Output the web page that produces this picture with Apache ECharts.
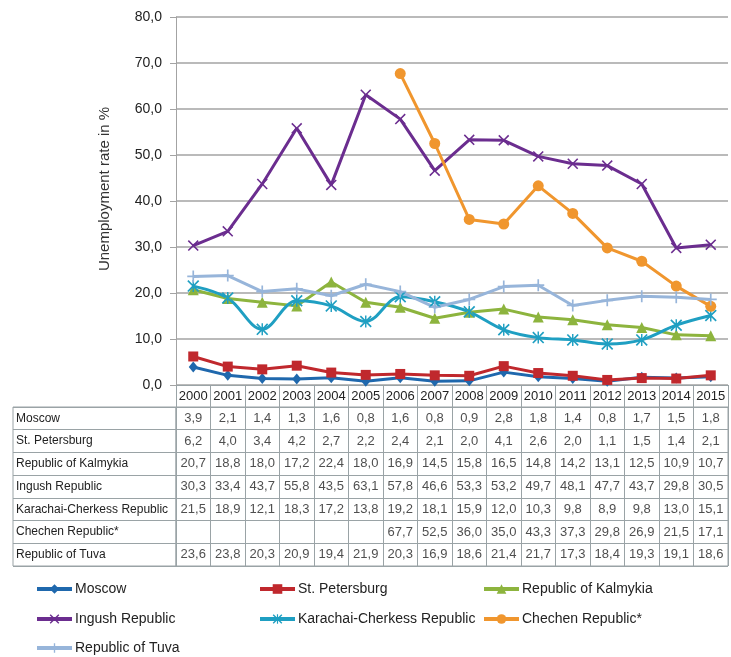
<!DOCTYPE html>
<html>
<head>
<meta charset="utf-8">
<script src="https://cdn.jsdelivr.net/npm/echarts@6/dist/echarts.min.js"></script>
<style>
html,body{margin:0;padding:0;background:#fff;}
#c{width:731px;height:657px;}
</style>
</head>
<body>
<div id="c"></div>
<script>
const years = ['2000','2001','2002','2003','2004','2005','2006','2007','2008','2009','2010','2011','2012','2013','2014','2015'];
const moscow = [3.9,2.1,1.4,1.3,1.6,0.8,1.6,0.8,0.9,2.8,1.8,1.4,0.8,1.7,1.5,1.8];
const stPetersburg = [6.2,4.0,3.4,4.2,2.7,2.2,2.4,2.1,2.0,4.1,2.6,2.0,1.1,1.5,1.4,2.1];
const kalmykia = [20.7,18.8,18.0,17.2,22.4,18.0,16.9,14.5,15.8,16.5,14.8,14.2,13.1,12.5,10.9,10.7];
const ingush = [30.3,33.4,43.7,55.8,43.5,63.1,57.8,46.6,53.3,53.2,49.7,48.1,47.7,43.7,29.8,30.5];
const karachai = [21.5,18.9,12.1,18.3,17.2,13.8,19.2,18.1,15.9,12.0,10.3,9.8,8.9,9.8,13.0,15.1];
const chechen = [null,null,null,null,null,null,67.7,52.5,36.0,35.0,43.3,37.3,29.8,26.9,21.5,17.1];
const tuva = [23.6,23.8,20.3,20.9,19.4,21.9,20.3,16.9,18.6,21.4,21.7,17.3,18.4,19.3,19.1,18.6];
const seriesNames = ['Moscow','St. Petersburg','Republic of Kalmykia','Ingush Republic','Karachai-Cherkess Republic','Chechen Republic*','Republic of Tuva'];
const yAxisTitle = 'Unemployment rate in %';

const allSeries = [moscow, stPetersburg, kalmykia, ingush, karachai, chechen, tuva];
const colors = ['#1f68ad','#c0282d','#8db43e','#6b2d8f','#1f9fc2','#f0962e','#97b5da'];
const symX = 'path://M1,0L5,4L9,0L10,1L6,5L10,9L9,10L5,6L1,10L0,9L4,5L0,1Z';
const symAst = 'path://M1,0L5,4L9,0L10,1L6,5L10,9L9,10L5,6L1,10L0,9L4,5L0,1Z M4.4,0L5.6,0L5.6,10L4.4,10Z';
const symPlus = 'path://M4.3,0L5.7,0L5.7,4.3L10,4.3L10,5.7L5.7,5.7L5.7,10L4.3,10L4.3,5.7L0,5.7L0,4.3L4.3,4.3Z';
const symbols = ['diamond','rect','triangle',symX,symAst,'circle',symPlus];
const symSizes = [[9,11],10,11,11,12,11,12];
const smooth = [false,false,false,false,0.35,false,false];

const FONT = 'Liberation Sans';
const fmt = v => v.toFixed(1).replace('.', ',');
const gridColor = '#a3a3a3';
const tableColor = '#9aa3a6';

const tableData = [];
allSeries.forEach((arr, r) => {
  arr.forEach((v, i) => { if (v !== null) tableData.push([i, r, v]); });
});

const lineSeries = allSeries.map((arr, k) => ({
  name: seriesNames[k],
  type: 'line',
  xAxisIndex: 0, yAxisIndex: 0,
  data: arr,
  color: colors[k],
  symbol: symbols[k],
  symbolSize: symSizes[k],
  showSymbol: true,
  smooth: smooth[k],
  lineStyle: { width: 3, color: colors[k] },
  itemStyle: { color: colors[k] },
  connectNulls: false,
  animation: false,
  z: 3
}));

// legend layout: [series index, left, top]
const legendSlots = [[0,35,582],[1,258,582],[2,482,582],[3,35,612],[4,258,612],[5,482,612],[6,35,641]];
const legends = legendSlots.map(([k, l, t]) => ({
  data: [seriesNames[k]], left: l, top: t, padding: 0, itemWidth: 35, itemHeight: 12,
  lineStyle: { width: 4 },
  textStyle: { fontFamily: FONT, fontSize: 14, color: '#222', padding: [0, 0, 0, -2] }
}));

const chart = echarts.init(document.getElementById('c'), null, { renderer: 'canvas' });
chart.setOption({
  animation: false,
  textStyle: { fontFamily: FONT },
  grid: [
    { left: 176, right: 3, top: 17, height: 368 },
    { left: 176, right: 3, top: 407, height: 159, show: true, borderColor: tableColor, borderWidth: 1 },
    { left: 13, width: 163, top: 407, height: 159, show: true, borderColor: tableColor, borderWidth: 1 }
  ],
  legend: legends,
  xAxis: [
    { type: 'category', gridIndex: 0, data: years, boundaryGap: true,
      axisLine: { lineStyle: { color: tableColor } },
      axisTick: { show: true, interval: 0, length: 22, alignWithLabel: false, lineStyle: { color: tableColor } },
      axisLabel: { interval: 0, margin: 5, fontSize: 13, color: '#222', fontFamily: FONT },
      splitLine: { show: false } },
    { type: 'category', gridIndex: 1, data: years, boundaryGap: true,
      axisLine: { show: false }, axisTick: { show: false }, axisLabel: { show: false },
      splitLine: { show: true, interval: 0, lineStyle: { color: tableColor } } },
    { type: 'value', gridIndex: 2, show: false, min: 0, max: 1 }
  ],
  yAxis: [
    { type: 'value', gridIndex: 0, min: 0, max: 80, interval: 10,
      name: yAxisTitle, nameLocation: 'middle', nameGap: 64, nameRotate: 90,
      nameTextStyle: { fontSize: 15, color: '#333', fontFamily: FONT, padding: [0, 0, 0, 24] },
      axisLine: { show: true, lineStyle: { color: gridColor } },
      axisTick: { show: true, length: 6, lineStyle: { color: gridColor } },
      axisLabel: { formatter: v => fmt(v), fontSize: 14, color: '#222', margin: 14, fontFamily: FONT },
      splitLine: { show: true, lineStyle: { color: gridColor, width: 1.5 } } },
    { type: 'category', gridIndex: 1, data: seriesNames, inverse: true,
      axisLine: { show: false }, axisTick: { show: false }, axisLabel: { show: false },
      splitLine: { show: true, interval: 0, lineStyle: { color: tableColor } } },
    { type: 'category', gridIndex: 2, data: seriesNames, inverse: true,
      axisLine: { show: false }, axisTick: { show: false },
      axisLabel: { show: true, inside: true, interval: 0, margin: 3, align: 'left', fontSize: 12, color: '#222', fontFamily: FONT },
      splitLine: { show: true, interval: 0, lineStyle: { color: tableColor } } }
  ],
  series: lineSeries.concat([
    { type: 'scatter', xAxisIndex: 1, yAxisIndex: 1, data: tableData,
      symbolSize: 1, itemStyle: { color: 'transparent' }, silent: true,
      label: { show: true, position: 'inside', formatter: p => fmt(p.value[2]), fontSize: 13, color: '#222', fontFamily: FONT } }
  ])
});
</script>
</body>
</html>
